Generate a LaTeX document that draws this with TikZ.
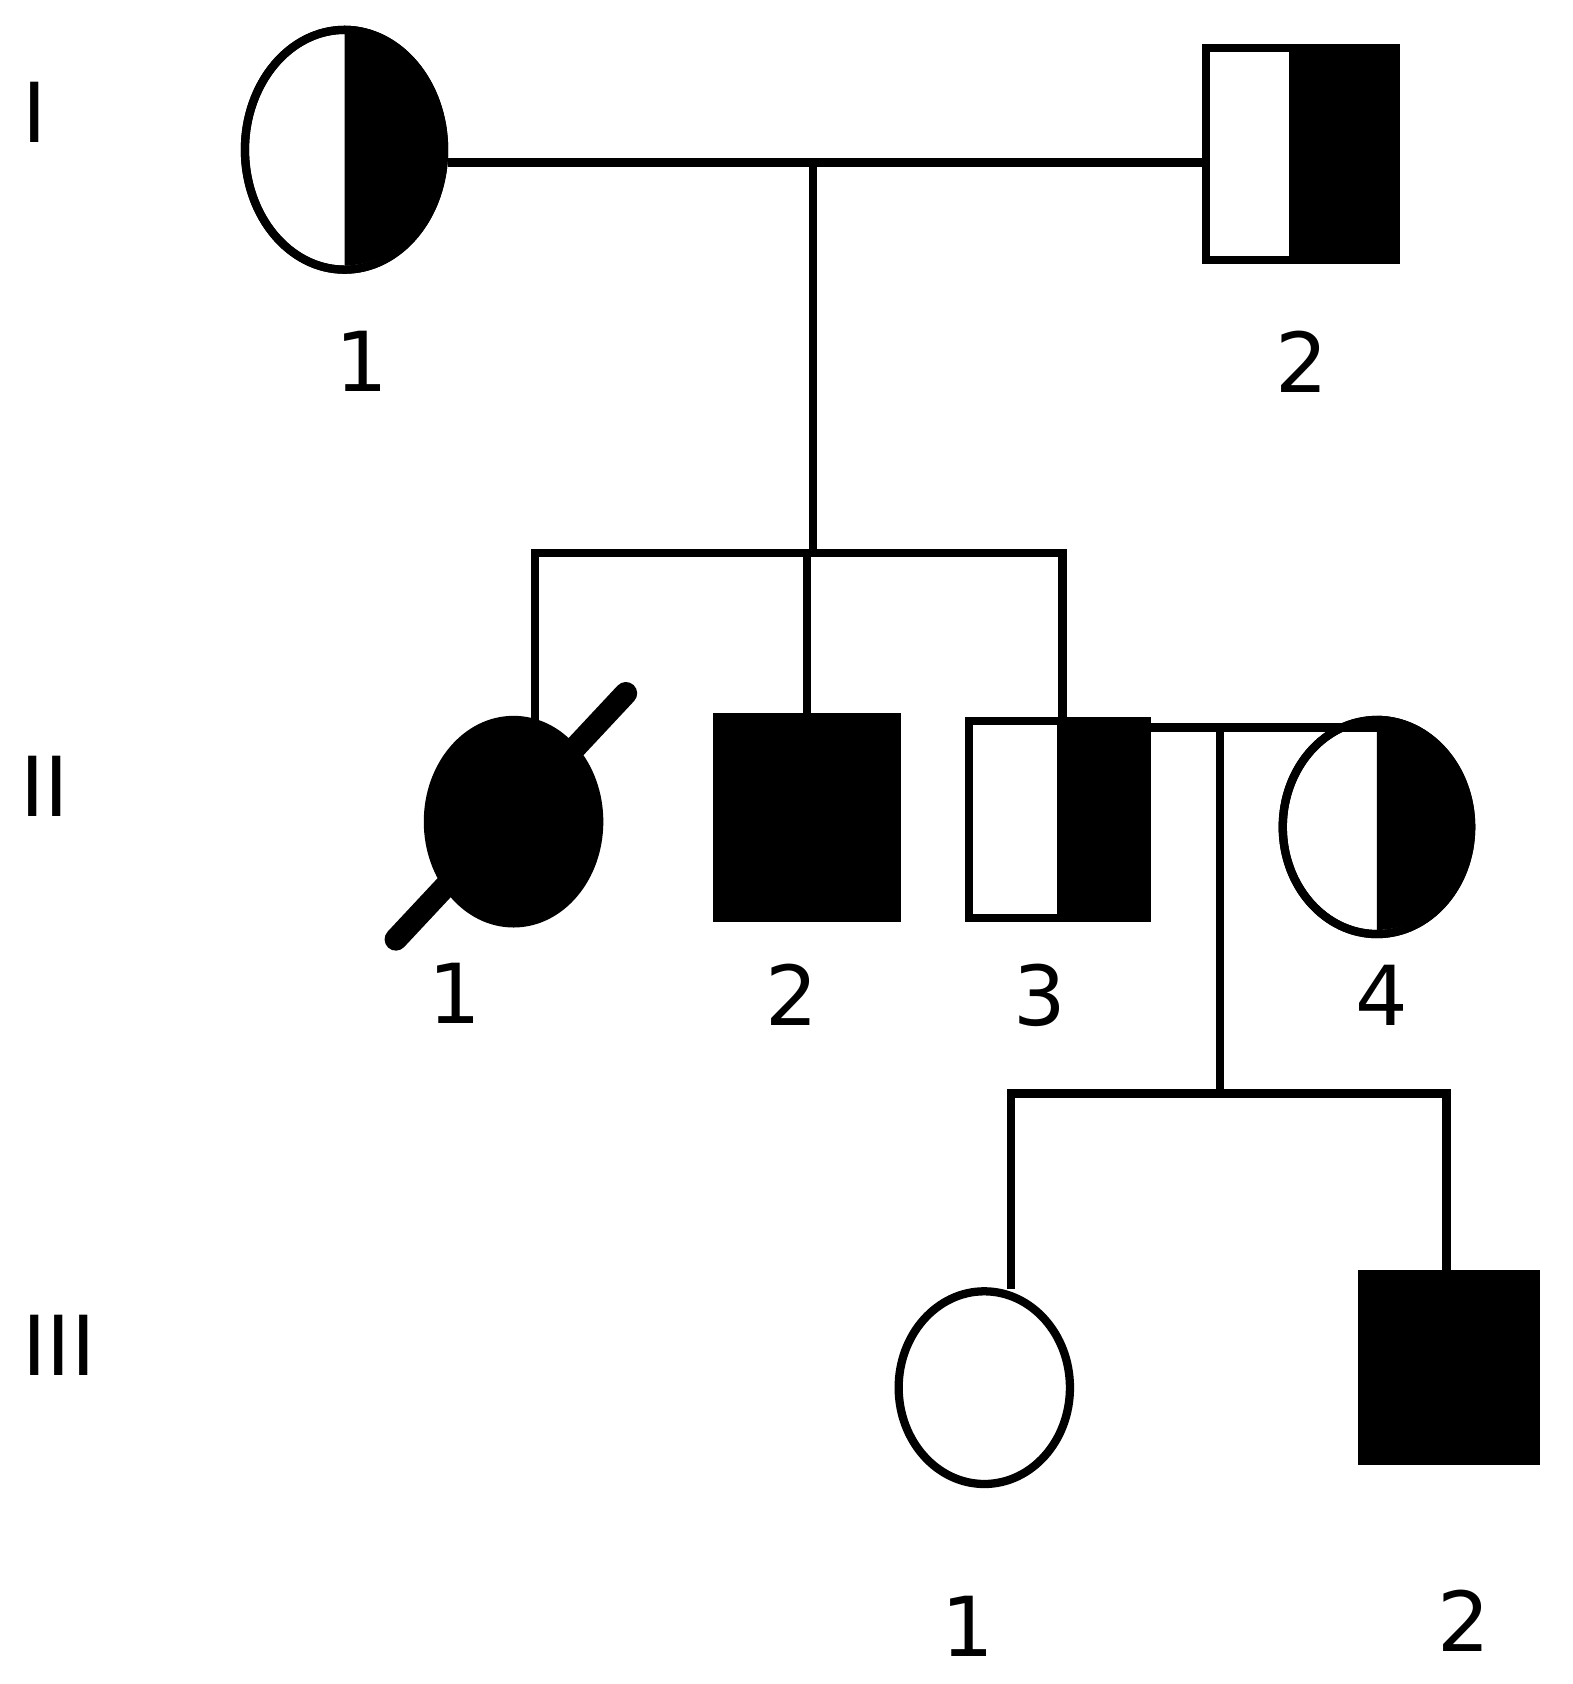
\documentclass[tikz,border=0pt]{standalone}
\usepackage{fontspec}
\setmainfont{DejaVu Sans}
\usetikzlibrary{shapes.geometric}
\begin{document}
\begin{tikzpicture}[x=0.01cm,y=-0.01cm,line width=2.2pt,
  fem/.style={ellipse,draw,inner sep=0pt},
  mal/.style={rectangle,draw,inner sep=0pt},
  lab/.style={font=\fontsize{22}{26}\selectfont}]
\useasboundingbox (0,0) rectangle (1470,1574);
% generation I
\node[fem,minimum width=1.86cm,minimum height=2.24cm] (a1) at (322,140) {};
\fill (a1.north) arc[start angle=90,end angle=-90,x radius=0.93cm,y radius=1.12cm] -- cycle;
\node[fem,minimum width=1.86cm,minimum height=2.24cm] at (a1) {};
\node[mal,minimum width=1.78cm,minimum height=1.98cm] (a2) at (1216,144) {};
\fill (1205,45) rectangle (1305,243);
\node[mal,minimum width=1.78cm,minimum height=1.98cm] at (a2) {};
% generation II
\node[fem,fill,minimum width=1.6cm,minimum height=1.9cm] (b1) at (480,768) {};
\node[mal,fill,minimum width=1.68cm,minimum height=1.88cm] (b2) at (754,764) {};
\node[mal,minimum width=1.66cm,minimum height=1.84cm] (b3) at (989,766) {};
\fill (988,674) rectangle (1072,858);
\node[mal,minimum width=1.66cm,minimum height=1.84cm] at (b3) {};
\node[fem,minimum width=1.76cm,minimum height=2cm] (b4) at (1287,773) {};
\fill (b4.north) arc[start angle=90,end angle=-90,x radius=0.88cm,y radius=1cm] -- cycle;
\node[fem,minimum width=1.76cm,minimum height=2cm] at (b4) {};
\draw[line width=6pt,line cap=round] (370,878) -- (585,648);
% generation III
\node[fem,minimum width=1.6cm,minimum height=1.8cm] (c1) at (920,1297) {};
\node[mal,fill,minimum width=1.62cm,minimum height=1.75cm] (c2) at (1354,1278) {};
% connectors
\coordinate (m1) at (760,152);
\coordinate (s1) at (760,517);
\coordinate (s1l) at (500,517);
\coordinate (s1r) at (993,517);
\coordinate (d1) at (500,680);
\coordinate (d3) at (993,674);
\draw (a1.east |- m1) -- (a2.west |- m1);
\draw (m1) -- (s1);
\draw (d1) -- (s1l) -- (s1r) -- (d3);
\draw (s1 -| b2.north) -- (b2.north);
\coordinate (m2) at (1140,680);
\coordinate (m2r) at (1287,680);
\coordinate (s2) at (1140,1022);
\coordinate (s2l) at (945,1022);
\coordinate (s2r) at (1352,1022);
\coordinate (e1) at (945,1205);
\coordinate (e2) at (1352,1190);
\draw (b3.east |- m2) -- (m2r);
\draw (m2) -- (s2);
\draw (e1) -- (s2l) -- (s2r) -- (e2);
% labels
\node[lab] (g1) at (32,105) {I};
\node[lab] (g2) at (42,735) {II};
\node[lab] (g3) at (55,1257) {III};
\node[lab] (la1) at (338,338) {1};
\node[lab] (la2) at (1217,338) {2};
\node[lab] (lb1) at (425,928) {1};
\node[lab] (lb2) at (740,930) {2};
\node[lab] (lb3) at (972,930) {3};
\node[lab] (lb4) at (1292,930) {4};
\node[lab] (lc1) at (905,1520) {1};
\node[lab] (lc2) at (1368,1515) {2};
\end{tikzpicture}
\end{document}
